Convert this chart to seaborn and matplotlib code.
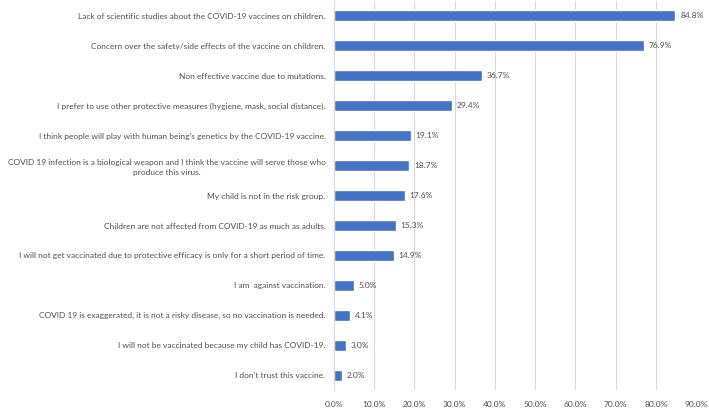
import matplotlib
matplotlib.use("Agg")
import matplotlib.pyplot as plt
import pandas as pd
import seaborn as sns

REASONS = [
    "Lack of scientific studies about the COVID-19 vaccines on children.",
    "Concern over the safety/side effects of the vaccine on children.",
    "Non effective vaccine due to mutations.",
    "I prefer to use other protective measures (hygiene, mask, social distance).",
    "I think people will play with human being\u2019s genetics by the COVID-19 vaccine.",
    "COVID 19 infection is a biological weapon and I think the vaccine will serve those who\nproduce this virus.",
    "My child is not in the risk group.",
    "Children are not affected from COVID-19 as much as adults.",
    "I will not get vaccinated due to protective efficacy is only for a short period of time.",
    "I am  against vaccination.",
    "COVID 19 is exaggerated, it is not a risky disease, so no vaccination is needed.",
    "I will not be vaccinated because my child has COVID-19.",
    "I don\u2019t trust this vaccine.",
]
PERCENTS = [84.8, 76.9, 36.7, 29.4, 19.1, 18.7, 17.6, 15.3, 14.9, 5.0, 4.1, 3.0, 2.0]
X_TICKS = [0, 10, 20, 30, 40, 50, 60, 70, 80, 90]

BAR_COLOR = "#4472C4"
TEXT_COLOR = "#505050"
FS = 6.0

df = pd.DataFrame({"reason": REASONS, "pct": PERCENTS})

sns.set_style("white")
plt.rcParams["font.family"] = ["Lato", "DejaVu Sans"]

fig = plt.figure(figsize=(7.09, 4.13), dpi=100)
ax = fig.add_axes([0.471, 0.055, 0.511, 0.943])

sns.barplot(data=df, x="pct", y="reason", color=BAR_COLOR, width=0.36,
            saturation=1, ax=ax)

# value labels next to each bar
for i, v in enumerate(PERCENTS):
    ax.text(v + 1.2, i, f"{v:.1f}%", va="center", ha="left",
            fontsize=FS, color=TEXT_COLOR)

ax.set_xlim(0, 90)
ax.set_ylim(len(REASONS) - 0.5, -0.5)
ax.set_xticks(X_TICKS)
ax.set_xticklabels([f"{t:.1f}%" for t in X_TICKS])
ax.xaxis.grid(True, color="#d9d9d9", linewidth=0.8)
ax.set_axisbelow(True)
ax.set_xlabel("")
ax.set_ylabel("")

for s in ["top", "right", "bottom"]:
    ax.spines[s].set_visible(False)
ax.spines["left"].set_color("#d9d9d9")
ax.spines["left"].set_linewidth(0.8)

ax.tick_params(axis="x", length=0, labelsize=FS, labelcolor=TEXT_COLOR, pad=8)
ax.tick_params(axis="y", length=0, labelsize=FS, labelcolor=TEXT_COLOR, pad=6)
for lbl in ax.get_yticklabels():
    lbl.set_multialignment("center")
    lbl.set_linespacing(1.5)

fig.savefig("out.png", dpi=100)
